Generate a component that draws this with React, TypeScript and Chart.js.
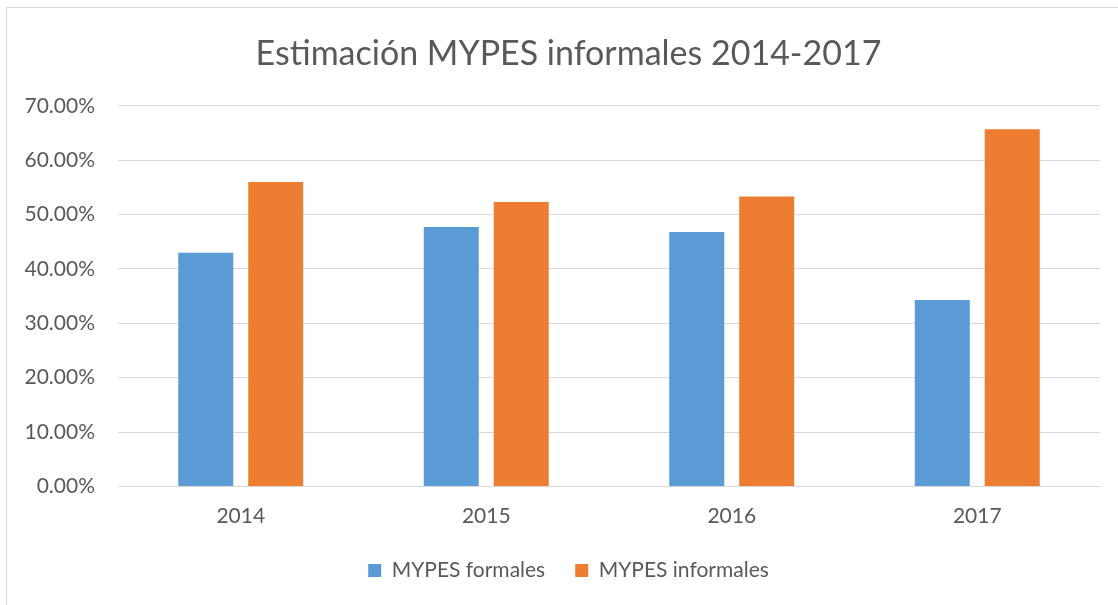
import React, { useEffect, useRef } from "react";
import { Chart, registerables } from "chart.js";

Chart.register(...registerables);

const categories = ["2014", "2015", "2016", "2017"];
const formales = [43.0, 47.7, 46.8, 34.3];
const informales = [56.0, 52.3, 53.3, 65.7];
const seriesNames = ["MYPES formales", "MYPES informales"];
const titleText = "Estimación MYPES informales 2014-2017";

const FONT = "Lato";
const TEXT = "#595959";

const shiftBlocks = {
  id: "shiftBlocks",
  afterLayout(chart: any) {
    if (chart.titleBlock) chart.titleBlock.left += 37;
    if (chart.legend) chart.legend.left += 37;
  },
};

export default function App() {
  const ref = useRef<HTMLCanvasElement | null>(null);
  useEffect(() => {
    if (!ref.current) return;
    const chart = new Chart(ref.current, {
      type: "bar",
      data: {
        labels: categories,
        datasets: [
          {
            label: seriesNames[0],
            data: formales,
            backgroundColor: "#5B9BD5",
            barPercentage: 0.786,
            categoryPercentage: 0.57,
          },
          {
            label: seriesNames[1],
            data: informales,
            backgroundColor: "#ED7D31",
            barPercentage: 0.786,
            categoryPercentage: 0.57,
          },
        ],
      },
      plugins: [shiftBlocks],
      options: {
        animation: false,
        responsive: false,
        layout: { padding: { left: 0, right: 18, top: 0, bottom: 14 } },
        plugins: {
          tooltip: { enabled: false },
          title: {
            display: true,
            text: titleText,
            color: TEXT,
            font: { family: FONT, size: 34, weight: "normal" },
            padding: { top: 34, bottom: 31 },
          },
          legend: {
            position: "bottom",
            labels: {
              color: TEXT,
              font: { family: FONT, size: 21 },
              boxWidth: 13,
              boxHeight: 13,
              padding: 30,
            },
          },
        },
        scales: {
          x: {
            grid: { display: false },
            border: { display: true, color: "#d9d9d9", width: 1 },
            ticks: { color: TEXT, font: { family: FONT, size: 21 }, padding: 9 },
            afterFit: (s: any) => {
              s.height = 43.5;
            },
          },
          y: {
            min: 0,
            max: 70,
            ticks: {
              stepSize: 10,
              color: TEXT,
              font: { family: FONT, size: 21 },
              padding: 23,
              callback: (v: any) => Number(v).toFixed(2) + "%",
            },
            grid: { color: "#d9d9d9", lineWidth: 1, drawTicks: false },
            border: { display: false },
            afterFit: (s: any) => {
              s.width = 118;
            },
          },
        },
      },
    });
    return () => chart.destroy();
  }, []);
  return (
    <div style={{ position: "fixed", left: 0, top: 0, width: 1118, height: 605, overflow: "hidden", background: "#fff" }}>
      <div
        style={{
          position: "absolute",
          left: 6,
          top: 7,
          width: 1200,
          height: 700,
          border: "1px solid #d9d9d9",
        }}
      />
      <canvas ref={ref} width={1118} height={605} style={{ position: "absolute", left: 0, top: 0 }} />
    </div>
  );
}
